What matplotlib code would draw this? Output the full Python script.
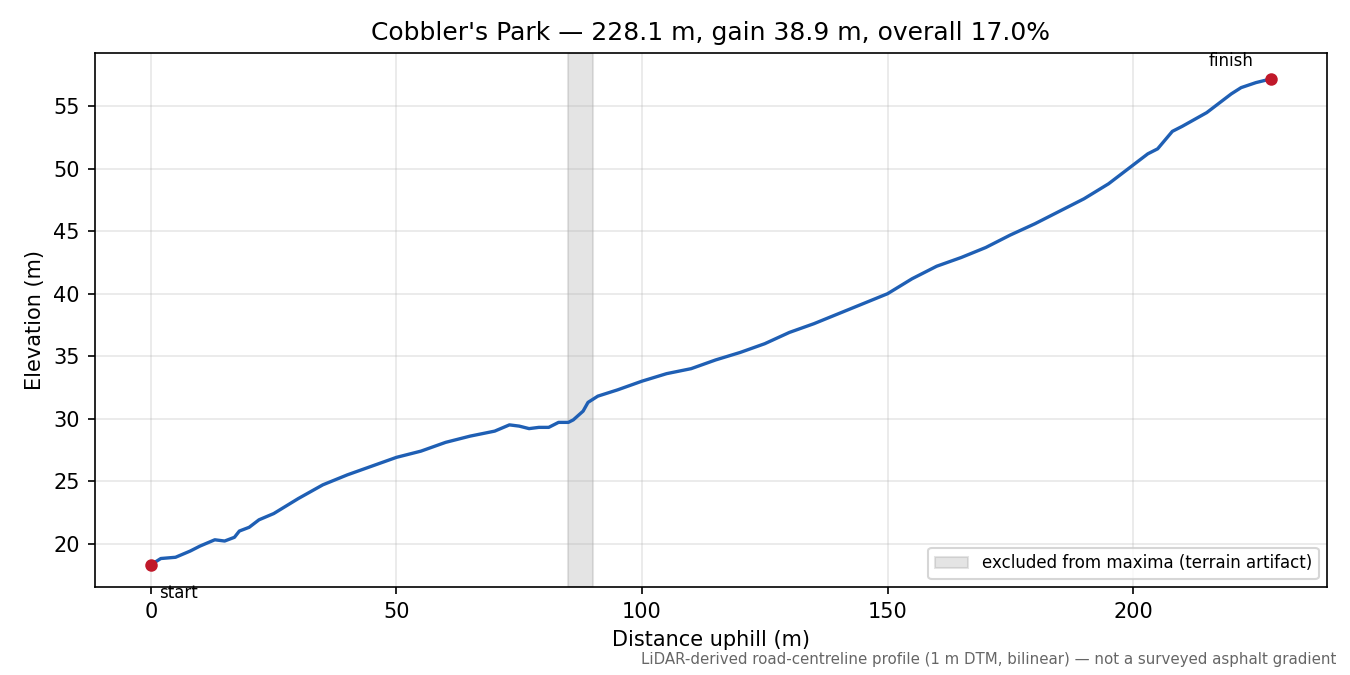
import numpy as np
import matplotlib.pyplot as plt

# profile samples
dist = [0, 2, 5, 8, 10, 13, 15, 17, 18, 20, 22, 25, 30, 35, 40, 45, 50, 55, 60, 65,
        70, 73, 75, 77, 79, 81, 83, 85, 86, 88, 89, 91, 95, 100, 105, 110, 115, 120,
        125, 130, 135, 140, 145, 150, 155, 160, 165, 170, 175, 180, 185, 190, 195,
        200, 203, 205, 208, 210, 215, 220, 222, 225, 228.1]
elev = [18.3, 18.8, 18.9, 19.4, 19.8, 20.3, 20.2, 20.5, 21.0, 21.3, 21.9, 22.4, 23.6,
        24.7, 25.5, 26.2, 26.9, 27.4, 28.1, 28.6, 29.0, 29.5, 29.4, 29.2, 29.3, 29.3,
        29.7, 29.7, 29.9, 30.6, 31.3, 31.8, 32.3, 33.0, 33.6, 34.0, 34.7, 35.3, 36.0,
        36.9, 37.6, 38.4, 39.2, 40.0, 41.2, 42.2, 42.9, 43.7, 44.7, 45.6, 46.6, 47.6,
        48.8, 50.3, 51.2, 51.6, 53.0, 53.4, 54.5, 56.0, 56.5, 56.9, 57.2]
excluded = (85, 90)

fig, ax = plt.subplots(figsize=(9, 4.5), dpi=150)
ax.axvspan(*excluded, color='#888888', alpha=0.22, label='excluded from maxima (terrain artifact)')
ax.plot(dist, elev, color='#1f5fb4', lw=1.6)
ax.plot([dist[0], dist[-1]], [elev[0], elev[-1]], 'o', color='#c0192a', ms=5, zorder=5)
ax.annotate('start', (dist[0], elev[0]), xytext=(4, -16), textcoords='offset points', fontsize=8)
ax.annotate('finish', (dist[-1], elev[-1]), xytext=(-30, 6), textcoords='offset points', fontsize=8)
ax.set_xlim(-11.5, 239.5)
ax.set_ylim(16.5, 59.3)
ax.grid(alpha=0.3)
ax.set_xlabel('Distance uphill (m)')
ax.set_ylabel('Elevation (m)')
ax.set_title("Cobbler's Park \u2014 228.1 m, gain 38.9 m, overall 17.0%")
ax.legend(loc='lower right', fontsize=8)
fig.text(0.99, 0.012, 'LiDAR-derived road-centreline profile (1 m DTM, bilinear) \u2014 not a surveyed asphalt gradient',
         ha='right', va='bottom', fontsize=7.2, color='#666666')
fig.subplots_adjust(left=0.07, right=0.983, top=0.922, bottom=0.13)
fig.savefig('out.png')
